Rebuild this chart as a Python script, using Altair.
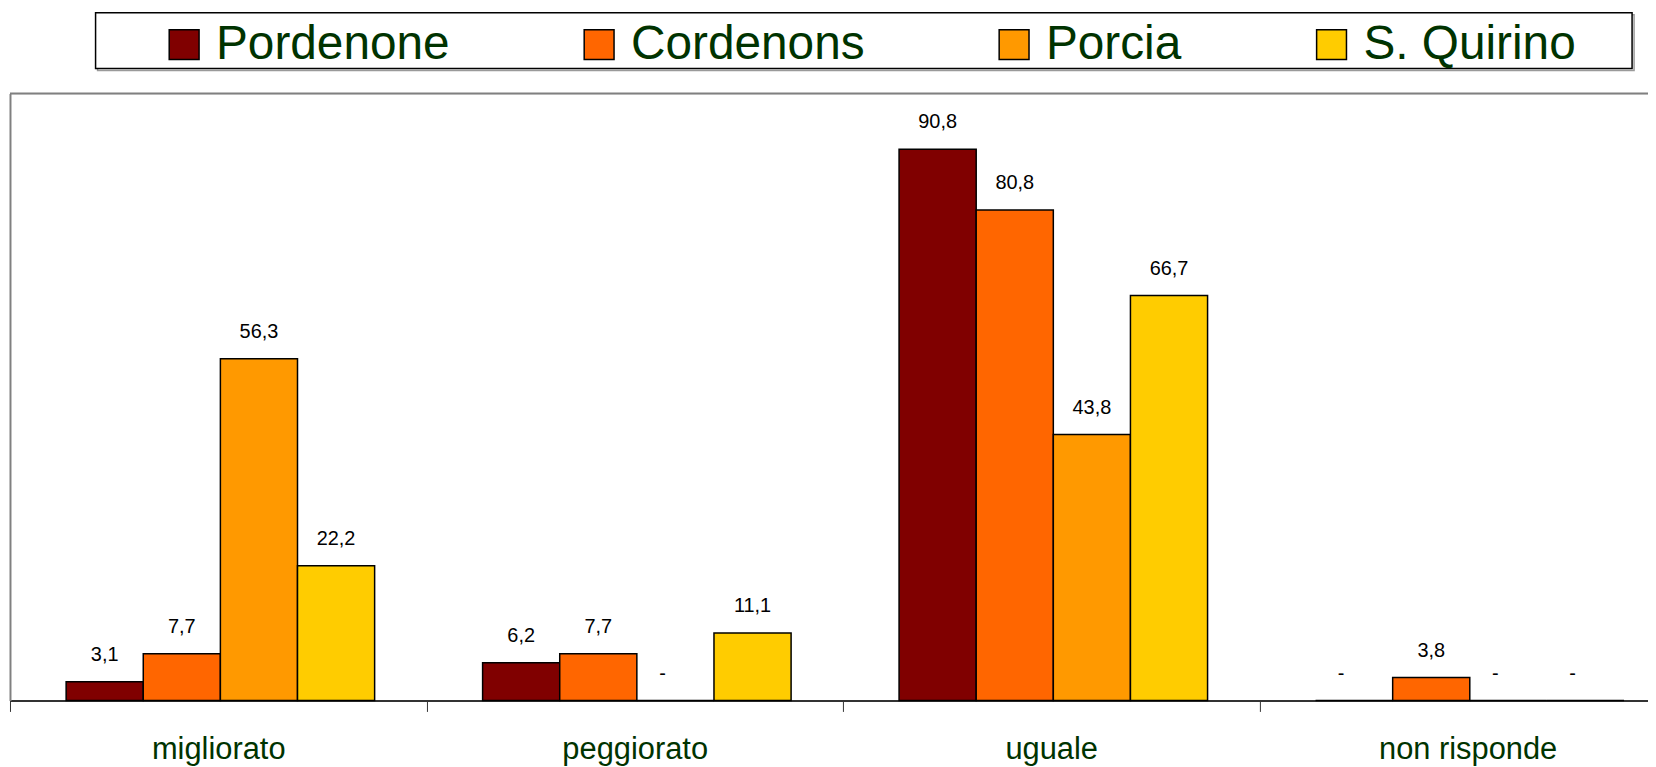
import altair as alt
import pandas as pd

categories = ["migliorato", "peggiorato", "uguale", "non risponde"]
series = ["Pordenone", "Cordenons", "Porcia", "S. Quirino"]
colors = ["#800000", "#FF6600", "#FF9900", "#FFCC00"]
pordenone = [3.1, 6.2, 90.8, 0.0]
cordenons = [7.7, 7.7, 80.8, 3.8]
porcia = [56.3, 0.0, 43.8, 0.0]
s_quirino = [22.2, 11.1, 66.7, 0.0]

rows = []
for s, vals in zip(series, [pordenone, cordenons, porcia, s_quirino]):
    for c, v in zip(categories, vals):
        rows.append({"cat": c, "series": s, "value": v,
                     "label": (f"{v:.1f}".replace(".", ",") if v > 0 else "-")})
df = pd.DataFrame(rows)

FONT = "Liberation Sans"
PLOT_W = 1646
BAND_RANGE = 1674

x_enc = alt.X("cat:N", sort=categories,
              scale=alt.Scale(range=[0, BAND_RANGE], paddingInner=0, paddingOuter=0),
              axis=alt.Axis(title=None, labelAngle=0, labelFontSize=31, labelFont=FONT,
                            labelColor="#003300", labelPadding=23, tickSize=11,
                            tickBand="extent", tickColor="#333333", tickWidth=1,
                            domainColor="#333333", domainWidth=2, grid=False))
xo_enc = alt.XOffset("series:N", sort=series,
                     scale=alt.Scale(paddingInner=0, paddingOuter=0.70, align=0.52))
y_enc = alt.Y("value:Q", scale=alt.Scale(domain=[0, 100], nice=False),
              axis=alt.Axis(title=None, labels=False, ticks=False, grid=False,
                            domain=True, domainColor="#808080", domainWidth=2))

base = alt.Chart(df)

bars = base.mark_bar(stroke="black", strokeWidth=1.5).encode(
    x=x_enc, xOffset=xo_enc, y=y_enc,
    color=alt.Color("series:N", sort=series,
                    scale=alt.Scale(domain=series, range=colors),
                    legend=alt.Legend(orient="none", legendX=151, legendY=-73,
                                      direction="horizontal", columns=4, title=None,
                                      symbolType="square", symbolSize=900,
                                      symbolStrokeColor="black", symbolStrokeWidth=1.5,
                                      labelFontSize=48, labelFont=FONT,
                                      labelColor="#003300", labelOffset=8,
                                      columnPadding=126, padding=0, labelLimit=0)),
)

text_enc = dict(
    x=alt.X("cat:N", sort=categories),
    xOffset=alt.XOffset("series:N", sort=series),
    y=alt.Y("value:Q"), text="label:N",
)

texts = base.mark_text(dy=-27, baseline="middle", fontSize=20, font=FONT,
                       color="black").encode(**text_enc).transform_filter(
    alt.datum.value > 0)

dashes = base.mark_text(dy=-27, dx=-13, baseline="middle", fontSize=20, font=FONT,
                        color="black").encode(**text_enc).transform_filter(
    alt.datum.value == 0)

frame_top = alt.Chart(alt.Data(values=[{}])).mark_rule(
    color="#808080", strokeWidth=2).encode(
    x=alt.value(0), x2=alt.value(1700), y=alt.value(0))

legend_shadow = alt.Chart(alt.Data(values=[{}])).mark_rect(
    fill="transparent", stroke="#9a9a9a", strokeWidth=1.5).encode(
    x=alt.value(88), x2=alt.value(1632), y=alt.value(-79), y2=alt.value(-23))

legend_box = alt.Chart(alt.Data(values=[{}])).mark_rect(
    fill="white", stroke="black", strokeWidth=1.5).encode(
    x=alt.value(86), x2=alt.value(1630), y=alt.value(-81), y2=alt.value(-25))

chart = alt.layer(legend_shadow, legend_box, frame_top, bars, texts, dashes).properties(
    width=PLOT_W, height=610,
    autosize=alt.AutoSizeParams(type="none"),
    padding={"left": 2, "top": 84, "right": 0, "bottom": 64},
).configure_view(stroke=None).configure(font=FONT)

chart.save("out.html", embed_options={"renderer": "svg", "actions": False})
